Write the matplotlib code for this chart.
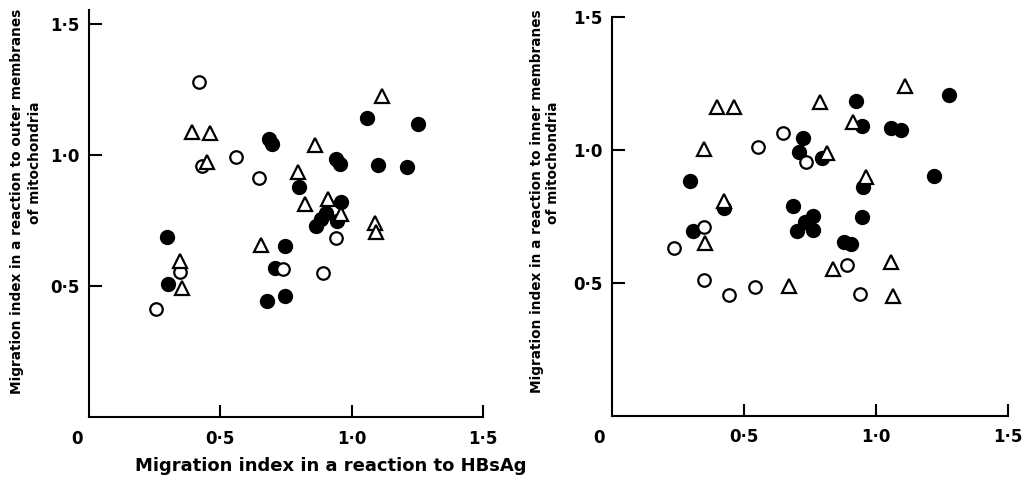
import numpy as np
import matplotlib
matplotlib.use("Agg")
import matplotlib.pyplot as plt

plt.rcParams['font.family'] = ['DejaVu Sans']
plt.rcParams['font.weight'] = 'bold'

# Outer membranes (left panel): x = HBsAg index, y = outer membrane index
outer_filled_x = [1.057, 1.251, 0.684, 0.697, 0.941, 0.955, 1.100, 1.212, 0.799, 0.958,
                  0.901, 0.882, 0.863, 0.945, 0.296, 0.748, 0.707, 0.300, 0.676, 0.748]
outer_filled_y = [1.139, 1.117, 1.061, 1.041, 0.985, 0.966, 0.962, 0.955, 0.877, 0.819,
                  0.777, 0.754, 0.730, 0.747, 0.687, 0.653, 0.570, 0.508, 0.443, 0.462]
outer_open_x = [0.420, 0.432, 0.560, 0.649, 0.939, 0.890, 0.738, 0.347, 0.256]
outer_open_y = [1.277, 0.959, 0.991, 0.912, 0.683, 0.548, 0.564, 0.553, 0.413]
outer_tri_x = [1.117, 0.394, 0.459, 0.449, 0.860, 0.795, 0.822, 0.910, 0.958, 1.089,
               1.092, 0.653, 0.345, 0.354]
outer_tri_y = [1.226, 1.089, 1.083, 0.972, 1.038, 0.934, 0.813, 0.831, 0.774, 0.739,
               0.707, 0.656, 0.595, 0.494]

# Inner membranes (right panel)
inner_filled_x = [1.278, 0.923, 0.946, 1.057, 1.095, 0.725, 0.710, 0.797, 0.295, 1.218,
                  0.952, 0.424, 0.686, 0.948, 0.760, 0.731, 0.700, 0.760, 0.308, 0.879, 0.905]
inner_filled_y = [1.208, 1.184, 1.090, 1.081, 1.076, 1.046, 0.994, 0.971, 0.883, 0.902,
                  0.862, 0.781, 0.791, 0.748, 0.752, 0.730, 0.697, 0.699, 0.697, 0.655, 0.647]
inner_open_x = [0.649, 0.554, 0.735, 0.350, 0.235, 0.891, 0.350, 0.442, 0.543, 0.941]
inner_open_y = [1.064, 1.010, 0.954, 0.709, 0.630, 0.569, 0.511, 0.456, 0.484, 0.459]
inner_tri_x = [1.111, 0.396, 0.462, 0.788, 0.914, 0.348, 0.816, 0.961, 0.424, 0.352,
               1.057, 0.838, 0.670, 1.066]
inner_tri_y = [1.241, 1.160, 1.160, 1.182, 1.106, 1.004, 0.990, 0.900, 0.809, 0.652,
               0.580, 0.553, 0.489, 0.452]

ticks = [0.5, 1.0, 1.5]
tick_labels = ['0·5', '1·0', '1·5']

fig = plt.figure(figsize=(10.28, 4.79), dpi=100)
ax1 = fig.add_axes([89 / 1028, 62 / 479, 394 / 1028, 407 / 479])
ax2 = fig.add_axes([612 / 1028, 63 / 479, 396 / 1028, 399 / 479])


def draw(ax, fx, fy, ox, oy, tx, ty, ytop):
    ax.plot(fx, fy, 'o', ms=10, mfc='black', mec='black', zorder=3, clip_on=False)
    ax.plot(ox, oy, 'o', ms=9, mfc='white', mec='black', mew=1.6, zorder=4, clip_on=False)
    ax.plot(tx, ty, '^', ms=10, mfc='white', mec='black', mew=1.6, zorder=5, clip_on=False)
    ax.set_xlim(0, 1.5)
    ax.set_ylim(0, ytop)
    for s in ['top', 'right']:
        ax.spines[s].set_visible(False)
    for s in ['left', 'bottom']:
        ax.spines[s].set_linewidth(1.5)
    ax.set_xticks(ticks)
    ax.set_xticklabels(tick_labels)
    ax.set_yticks(ticks)
    ax.set_yticklabels(tick_labels)
    ax.tick_params(direction='in', length=9, width=1.5, labelsize=12)
    ax.tick_params(axis='x', pad=9)
    ax.tick_params(axis='y', pad=7)
    ax.annotate('0', xy=(0, 0), xycoords='data', xytext=(-9, -16),
                textcoords='offset points', ha='center', va='center', fontsize=12)


draw(ax1, outer_filled_x, outer_filled_y, outer_open_x, outer_open_y,
     outer_tri_x, outer_tri_y, 1.553)
draw(ax2, inner_filled_x, inner_filled_y, inner_open_x, inner_open_y,
     inner_tri_x, inner_tri_y, 1.5)

fig.text(17 / 1028, 1 - 201 / 479, 'Migration index in a reaction to outer membranes',
         rotation=90, ha='center', va='center', fontsize=9.8)
fig.text(35 / 1028, 1 - 163 / 479, 'of mitochondria',
         rotation=90, ha='center', va='center', fontsize=9.8)
fig.text(537 / 1028, 1 - 201 / 479, 'Migration index in a reaction to inner membranes',
         rotation=90, ha='center', va='center', fontsize=9.8)
fig.text(553 / 1028, 1 - 163 / 479, 'of mitochondria',
         rotation=90, ha='center', va='center', fontsize=9.8)
fig.text(331 / 1028, 1 - 466 / 479, 'Migration index in a reaction to HBsAg',
         ha='center', va='center', fontsize=13)

fig.savefig('out.png', dpi=100)
